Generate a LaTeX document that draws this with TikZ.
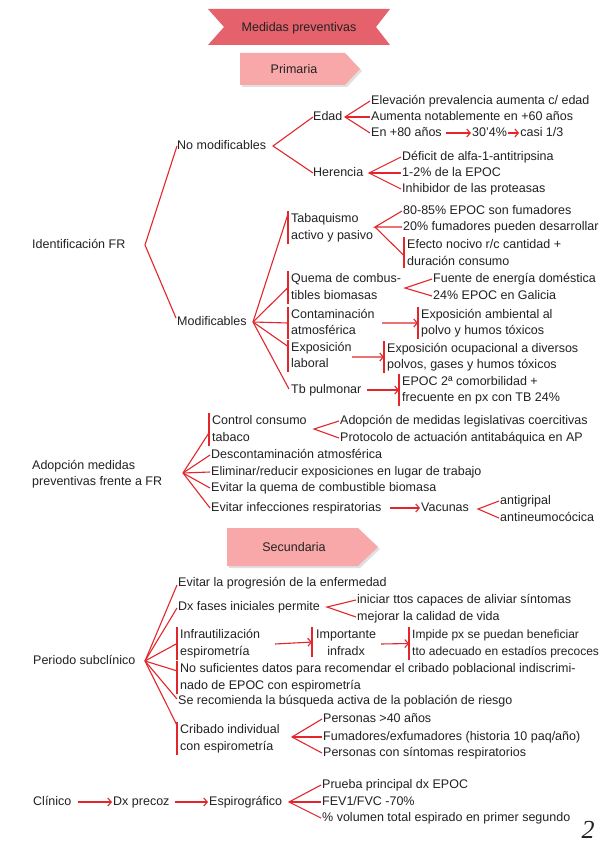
\documentclass[tikz,border=0pt]{standalone}
\usepackage{fontspec}
\setmainfont{Liberation Sans}
\newfontfamily\pgfont{Liberation Serif}
\usetikzlibrary{calc,arrows.meta}
\definecolor{ink}{HTML}{222222}
\definecolor{rl}{HTML}{E3262C}
\definecolor{bann}{HTML}{E5616B}
\definecolor{pinkb}{HTML}{F9A8AA}
\newcommand\fs{\fontsize{12.5}{16.5}\selectfont}
\newcommand\fss{\fontsize{12}{16.5}\selectfont}
\begin{document}
\begin{tikzpicture}[x=1pt,y=-1pt,
  t/.style={anchor=west,inner sep=0pt,text height=9pt,text depth=2.5pt,font=\fs,text=ink},
  ln/.style={draw=rl,line width=1.1pt},
  arr/.style={draw=rl,line width=1.1pt,-{Straight Barb[length=3.5pt,width=8pt]}},
  bar/.style={draw=rl,line width=1.6pt},
  head/.style={inner sep=0pt,font=\fontsize{12.5}{14}\selectfont,text=ink}
]
\useasboundingbox (0,0) rectangle (599,848);
\fill[white] (0,0) rectangle (599,848);

% ---------- banners ----------
\fill[bann] (208,9) -- (390,9) -- (376,27) -- (390,45) -- (208,45) -- (224,27) -- cycle;
\node[head] (title) at (299,28) {Medidas preventivas};

\fill[black!12] (242,55) -- (347,55) -- (362,71) -- (347,87) -- (242,87) -- cycle;
\fill[pinkb] (240,53) -- (345,53) -- (360,69) -- (345,85) -- (240,85) -- cycle;
\node[head] (prim) at (294,69) {Primaria};

\fill[black!12] (229,530) -- (360,530) -- (380,549) -- (360,568) -- (229,568) -- cycle;
\fill[pinkb] (227,528) -- (358,528) -- (378,547) -- (358,566) -- (227,566) -- cycle;
\node[head] (secu) at (294,547) {Secundaria};

% ---------- Identificación FR ----------
\node[t] (idfr) at (32,245) {Identificación FR};
\coordinate (fI) at (145,245);
\node[t] (nomod) at (177,146) {No modificables};
\node[t] (mod) at (177,322) {Modificables};
\draw[ln] (nomod.west) -- (fI) -- ($(mod.west)+(-1,-4)$);

% No modificables
\coordinate (fN) at (273,146);
\node[t] (edad) at (313,117) {Edad};
\node[t] (her) at (313,173) {Herencia};
\draw[ln] (edad.west) -- (fN) -- (her.west);

\coordinate (fE) at (345,117);
\node[t] (e1) at (371,101) {Elevación prevalencia aumenta c/ edad};
\node[t] (e2) at (371,117) {Aumenta notablemente en +60 años};
\node[t] (e3) at (371,133) {En +80 años};
\node[t] (e4) at ($(e3.east)+(30,0)$) {30'4\%};
\node[t] (e5) at ($(e4.east)+(13,0)$) {casi 1/3};
\draw[ln] ($(e1.west)+(-1,0)$) -- (fE) -- ($(e3.west)+(-1,0)$);
\draw[ln] (fE) -- ($(e2.west)+(-1,0)$);
\draw[arr,shorten <=4pt,shorten >=1pt] (e3) -- (e4);
\draw[arr,shorten <=1pt,shorten >=1pt] (e4) -- (e5);

\coordinate (fH) at (369,173);
\node[t] (h1) at (402,157) {Déficit de alfa-1-antitripsina};
\node[t] (h2) at (402,173) {1-2\% de la EPOC};
\node[t] (h3) at (402,189) {Inhibidor de las proteasas};
\draw[ln] ($(h1.west)+(-1,0)$) -- (fH) -- ($(h3.west)+(-1,0)$);
\draw[ln] (fH) -- ($(h2.west)+(-1,0)$);

% Modificables
\coordinate (fM) at (253,322);

% Tabaquismo
\node[t] (ta1) at (291,219) {Tabaquismo};
\node[t] (ta2) at (291,236) {activo y pasivo};
\coordinate (taT) at ($(ta1.north west)+(-3,-2)$);
\coordinate (taB) at ($(ta2.south west)+(-3,2)$);
\draw[bar] (taT) -- (taB);
\draw[ln] (fM) -- ($(taT)+(0,3)$);
\coordinate (fT) at (375,227);
\node[t] (t1) at (403,211) {80-85\% EPOC son fumadores};
\node[t] (t2) at (403,227) {20\% fumadores pueden desarrollar};
\node[t] (t3a) at (407,245) {Efecto nocivo r/c cantidad +};
\node[t] (t3b) at (407,262) {duración consumo};
\coordinate (t3T) at ($(t3a.north west)+(-3,-2)$);
\coordinate (t3B) at ($(t3b.south west)+(-3,0)$);
\draw[bar] (t3T) -- (t3B);
\draw[ln] ($(t1.west)+(-1,0)$) -- (fT) -- ($(t2.west)+(-1,0)$);
\draw[ln] (fT) -- ($(t3T)!0.6!(t3B)$);

% Quema
\node[t] (qu1) at (291,279) {Quema de combus-};
\node[t] (qu2) at (291,296) {tibles biomasas};
\coordinate (quT) at ($(qu1.north west)+(-3,-2)$);
\coordinate (quB) at ($(qu2.south west)+(-3,2)$);
\draw[bar] (quT) -- (quB);
\draw[ln] (fM) -- ($(quT)!0.5!(quB)$);
\coordinate (fQ) at (405,288);
\node[t] (q1) at (433,279) {Fuente de energía doméstica};
\node[t] (q2) at (433,296) {24\% EPOC en Galicia};
\draw[ln] ($(q1.west)+(-1,0)$) -- (fQ) -- ($(q2.west)+(-1,0)$);

% Contaminación
\node[t] (co1) at (291,315) {Contaminación};
\node[t] (co2) at (291,331) {atmosférica};
\coordinate (coT) at ($(co1.north west)+(-3,-2)$);
\coordinate (coB) at ($(co2.south west)+(-3,2)$);
\draw[bar] (coT) -- (coB);
\draw[ln] (fM) -- ($(coT)!0.5!(coB)$);
\node[t] (co3) at (421,315) {Exposición ambiental al};
\node[t] (co4) at (421,331) {polvo y humos tóxicos};
\coordinate (c2T) at ($(co3.north west)+(-3,-2)$);
\coordinate (c2B) at ($(co4.south west)+(-3,2)$);
\draw[bar] (c2T) -- (c2B);
\coordinate (coA) at (382,323);
\draw[arr] (coA) -- ($(c2T)!0.5!(c2B)$);

% Exposición laboral
\node[t] (ex1) at (291,348) {Exposición};
\node[t] (ex2) at (291,364) {laboral};
\coordinate (exT) at ($(ex1.north west)+(-3,-2)$);
\coordinate (exB) at ($(ex2.south west)+(-3,2)$);
\draw[bar] (exT) -- (exB);
\draw[ln] (fM) -- ($(exT)!0.2!(exB)$);
\node[t] (ex3) at (387,349) {Exposición ocupacional a diversos};
\node[t] (ex4) at (387,365) {polvos, gases y humos tóxicos};
\coordinate (e2T) at ($(ex3.north west)+(-3,-2)$);
\coordinate (e2B) at ($(ex4.south west)+(-3,2)$);
\draw[bar] (e2T) -- (e2B);
\coordinate (exA) at (352,357);
\draw[arr] (exA) -- ($(e2T)!0.5!(e2B)$);

% Tb pulmonar
\node[t] (tb) at (291,390) {Tb pulmonar};
\draw[ln] (fM) -- ($(tb.west)+(-2,-1)$);
\node[t] (tb1) at (402,382) {EPOC 2ª comorbilidad +};
\node[t] (tb2) at (402,398) {frecuente en px con TB 24\%};
\coordinate (tbT) at ($(tb1.north west)+(-3,-2)$);
\coordinate (tbB) at ($(tb2.south west)+(-3,2)$);
\draw[bar] (tbT) -- (tbB);
\draw[arr,shorten <=5pt] (tb.east) -- (tb.east -| tbT);

% ---------- Adopción ----------
\node[t] (ad1) at (32,466) {Adopción medidas};
\node[t] (ad2) at (32,482) {preventivas frente a FR};
\coordinate (fA) at (183,473);
\node[t] (ct1) at (212,421) {Control consumo};
\node[t] (ct2) at (212,438) {tabaco};
\coordinate (ctT) at ($(ct1.north west)+(-3,-2)$);
\coordinate (ctB) at ($(ct2.south west)+(-3,2)$);
\draw[bar] (ctT) -- (ctB);
\draw[ln] (fA) -- ($(ctT)!0.6!(ctB)$);
\coordinate (fC) at (314,429);
\node[t] (c1) at (340,421) {Adopción de medidas legislativas coercitivas};
\node[t] (c2) at (340,438) {Protocolo de actuación antitabáquica en AP};
\draw[ln] ($(c1.west)+(-1,0)$) -- (fC) -- ($(c2.west)+(-1,0)$);
\node[t] (ds) at (211,455) {Descontaminación atmosférica};
\node[t] (el) at (211,472) {Eliminar/reducir exposiciones en lugar de trabajo};
\node[t] (eq) at (211,488) {Evitar la quema de combustible biomasa};
\node[t] (ei) at (211,508) {Evitar infecciones respiratorias};
\draw[ln] (fA) -- ($(ds.west)+(-1,0)$);
\draw[ln] (fA) -- ($(el.west)+(-1,0)$);
\draw[ln] (fA) -- ($(eq.west)+(-1,0)$);
\draw[ln] (fA) -- ($(ei.west)+(-1,0)$);
\node[t] (va) at (421,508) {Vacunas};
\draw[arr,shorten <=8pt,shorten >=1pt] (ei) -- (va);
\coordinate (fV) at (478,509);
\node[t] (v1) at (500,501) {antigripal};
\node[t] (v2) at (500,518) {antineumocócica};
\draw[ln] ($(v1.west)+(-1,0)$) -- (fV) -- ($(v2.west)+(-1,0)$);

% ---------- Secundaria: periodo subclínico ----------
\node[t] (per) at (33,661) {Periodo subclínico};
\coordinate (fP) at (145,661);
\node[t] (evp) at (178,583) {Evitar la progresión de la enfermedad};
\node[t] (dxf) at (178,607) {Dx fases iniciales permite};
\draw[ln] (fP) -- ($(evp.west)+(-1,2)$);
\draw[ln] (fP) -- ($(dxf.west)+(-1,1)$);
\coordinate (fD) at (327,607);
\node[t] (d1) at (357,600) {iniciar ttos capaces de aliviar síntomas};
\node[t] (d2) at (357,617) {mejorar la calidad de vida};
\draw[ln] ($(d1.west)+(-1,0)$) -- (fD) -- ($(d2.west)+(-1,0)$);

\node[t] (in1) at (180,635) {Infrautilización};
\node[t] (in2) at (180,652) {espirometría};
\coordinate (inT) at ($(in1.north west)+(-3,-2)$);
\coordinate (inB) at ($(in2.south west)+(-3,2)$);
\draw[bar] (inT) -- (inB);
\draw[ln] (fP) -- ($(inT)!0.5!(inB)$);
\node[t] (im1) at (316,635) {Importante};
\node[t,anchor=center] (im2) at ($(im1.center)+(0,17)$) {infradx};
\coordinate (imT) at ($(im1.north west)+(-4,-2)$);
\coordinate (imB) at ($(imT)+(0,30)$);
\draw[bar] (imT) -- (imB);
\coordinate (inA) at (275,644);
\draw[arr] (inA) -- ($(imT)!0.5!(imB)$);
\node[t,font=\fss] (ip1) at (412,635) {Impide px se puedan beneficiar};
\node[t,font=\fss] (ip2) at (412,652) {tto adecuado en estadíos precoces};
\coordinate (ipT) at ($(ip1.north west)+(-3,-2)$);
\coordinate (ipB) at ($(ip2.south west)+(-3,2)$);
\draw[bar] (ipT) -- (ipB);
\coordinate (imA) at (381,644);
\draw[arr] (imA) -- ($(ipT)!0.5!(ipB)$);

\node[t] (ns1) at (180,669) {No suficientes datos para recomendar el cribado poblacional indiscrimi-};
\node[t] (ns2) at (180,686) {nado de EPOC con espirometría};
\coordinate (nsT) at ($(ns1.north west)+(-3,-2)$);
\coordinate (nsB) at ($(ns2.south west)+(-3,2)$);
\draw[bar] (nsT) -- (nsB);
\draw[ln] (fP) -- ($(nsT)!0.3!(nsB)$);
\node[t] (se) at (178,701) {Se recomienda la búsqueda activa de la población de riesgo};
\draw[ln] (fP) -- ($(se.west)+(-1,-2)$);

\node[t] (cb1) at (180,730) {Cribado individual};
\node[t] (cb2) at (180,747) {con espirometría};
\coordinate (cbT) at ($(cb1.north west)+(-3,-2)$);
\coordinate (cbB) at ($(cb2.south west)+(-3,2)$);
\draw[bar] (cbT) -- (cbB);
\draw[ln] (fP) -- ($(cbT)!0.1!(cbB)$);
\coordinate (fCr) at (292,737);
\node[t] (cr1) at (323,719) {Personas >40 años};
\node[t] (cr2) at (323,737) {Fumadores/exfumadores (historia 10 paq/año)};
\node[t] (cr3) at (323,753) {Personas con síntomas respiratorios};
\draw[ln] ($(cr1.west)+(-1,0)$) -- (fCr) -- ($(cr3.west)+(-1,0)$);
\draw[ln] (fCr) -- ($(cr2.west)+(-1,0)$);

% ---------- Clínico ----------
\node[t] (cl) at (33,802) {Clínico};
\node[t] (dp) at (113,802) {Dx precoz};
\node[t] (es) at (209,802) {Espirográfico};
\draw[arr,shorten <=6pt,shorten >=1pt] (cl) -- (dp);
\draw[arr,shorten <=5pt,shorten >=1pt] (dp) -- (es);
\coordinate (fS) at (289,802);
\node[t] (s1) at (322,785) {Prueba principal dx EPOC};
\node[t] (s2) at (322,802) {FEV1/FVC -70\%};
\node[t] (s3) at (322,818) {\% volumen total espirado en primer segundo};
\draw[ln] ($(s1.west)+(-1,0)$) -- (fS) -- ($(s3.west)+(-1,0)$);
\draw[ln] (fS) -- ($(s2.west)+(-1,0)$);

\node[inner sep=0pt,text=ink,font=\pgfont\itshape\fontsize{26}{26}\selectfont] (pg) at (588,830) {2};
\end{tikzpicture}
\end{document}
